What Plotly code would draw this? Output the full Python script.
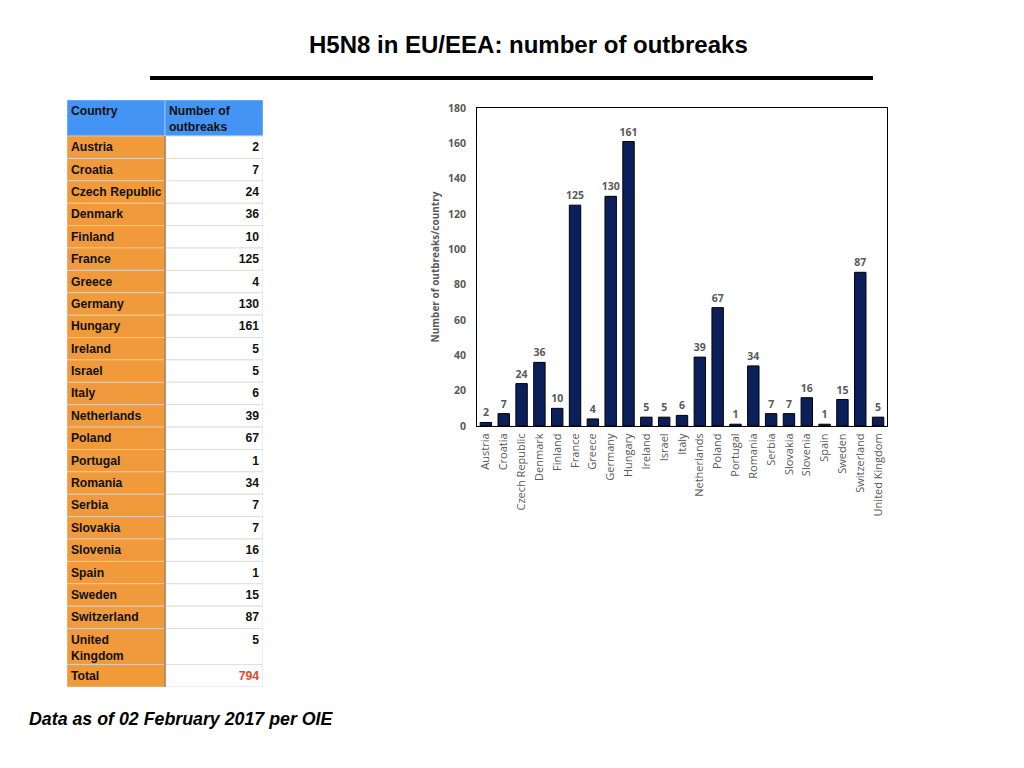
import plotly.graph_objects as go

# data
countries = ["Austria", "Croatia", "Czech Republic", "Denmark", "Finland", "France",
             "Greece", "Germany", "Hungary", "Ireland", "Israel", "Italy", "Netherlands",
             "Poland", "Portugal", "Romania", "Serbia", "Slovakia", "Slovenia", "Spain",
             "Sweden", "Switzerland", "United Kingdom"]
outbreaks = [2, 7, 24, 36, 10, 125, 4, 130, 161, 5, 5, 6, 39, 67, 1, 34, 7, 7, 16, 1,
             15, 87, 5]
header_labels = ["Country", "Number of<br>outbreaks"]
total_label = "Total"
total_value = 794
y_ticks = [0, 20, 40, 60, 80, 100, 120, 140, 160, 180]

W, H = 1024, 768
OFF = 8  # page body margin


def px(x):
    return (x - OFF) / W


def py(y):
    return 1 - (y - OFF) / H


ORANGE = "#f09a3b"
BLUE = "#4394f4"
NAVY = "#0b1f5b"
GREY = "#595959"
TXT = "#111111"
FONT = "Liberation Sans, Arial"

HEADER_H = 36
ROW_H = 22.35
PAD = 0.04  # text inset, in column units

fig = go.Figure()

# ---- table on the left, drawn on its own hidden axes (row units = px) ----
names = [c.replace("United Kingdom", "United<br>Kingdom") for c in countries] + [total_label]
vals = [str(v) for v in outbreaks] + [str(total_value)]
heights = [36 if "<br>" in n else ROW_H for n in names]
tops = []
t = HEADER_H
for h in heights:
    tops.append(t)
    t += h
table_bottom = t

# header cells
fig.add_trace(go.Bar(
    x=[0, 1], y=[HEADER_H, HEADER_H], base=[0, 0], width=1, offset=-0.5,
    marker=dict(color=BLUE, line=dict(color="rgba(200,215,235,0.6)", width=1)),
    xaxis="x2", yaxis="y2", showlegend=False, hoverinfo="skip",
))
# body cells
fig.add_trace(go.Bar(
    x=[0] * len(names), y=heights, base=tops, width=1, offset=-0.5,
    marker=dict(color=ORANGE, line=dict(color="rgba(220,220,220,0.6)", width=1)),
    xaxis="x2", yaxis="y2", showlegend=False, hoverinfo="skip",
))
fig.add_trace(go.Bar(
    x=[1] * len(names), y=heights, base=tops, width=1, offset=-0.5,
    marker=dict(color="white", line=dict(color="#dedede", width=1)),
    xaxis="x2", yaxis="y2", showlegend=False, hoverinfo="skip",
))
# column divider
fig.add_trace(go.Scatter(
    x=[0.5, 0.5], y=[HEADER_H, table_bottom], mode="lines",
    line=dict(color="#a27a4c", width=1.5),
    xaxis="x2", yaxis="y2", showlegend=False, hoverinfo="skip",
))
# header text
fig.add_trace(go.Scatter(
    x=[-0.5 + PAD, 0.5 + PAD], y=[5.5, 5.5], mode="text",
    text=["<b>" + s + "</b>" for s in header_labels],
    textposition="bottom right",
    textfont=dict(family=FONT, size=12.2, color=TXT),
    xaxis="x2", yaxis="y2", showlegend=False, hoverinfo="skip",
))
# body text
fig.add_trace(go.Scatter(
    x=[-0.5 + PAD] * len(names), y=[tp + 6 for tp in tops], mode="text",
    text=["<b>" + n + "</b>" for n in names],
    textposition="bottom right",
    textfont=dict(family=FONT, size=12.2, color=TXT),
    xaxis="x2", yaxis="y2", showlegend=False, hoverinfo="skip",
))
fig.add_trace(go.Scatter(
    x=[1.5 - PAD] * len(vals), y=[tp + 6 for tp in tops], mode="text",
    text=["<b>" + v + "</b>" for v in vals],
    textposition="bottom left",
    textfont=dict(family=FONT, size=12.2, color=[TXT] * len(outbreaks) + ["#e8452f"]),
    xaxis="x2", yaxis="y2", showlegend=False, hoverinfo="skip",
))

# ---- bar chart ----
fig.add_trace(go.Bar(
    x=countries,
    y=outbreaks,
    marker=dict(color=NAVY, line=dict(color="black", width=1)),
    text=[str(v) for v in outbreaks],
    textposition="outside",
    constraintext="none",
    cliponaxis=False,
    textfont=dict(family="Open Sans", size=10.5, color=GREY, weight="bold"),
    showlegend=False,
    hoverinfo="x+y",
))

fig.update_layout(
    width=W,
    height=H,
    margin=dict(l=0, r=0, t=0, b=0, autoexpand=False),
    paper_bgcolor="white",
    plot_bgcolor="white",
    bargap=0.36,
    xaxis=dict(
        domain=[px(477), px(887)],
        tickangle=-90,
        tickfont=dict(family="Open Sans", size=11, color=GREY),
        ticklabelstandoff=2,
        showline=True, linecolor="black", linewidth=1, mirror=True,
        ticks="", showgrid=False, automargin=False,
    ),
    yaxis=dict(
        domain=[py(426), py(108)],
        range=[0, 180],
        tickvals=y_ticks,
        tickfont=dict(family="Open Sans", size=10.5, color=GREY, weight="bold"),
        ticklabelstandoff=8,
        showline=True, linecolor="black", linewidth=1, mirror=True,
        ticks="", showgrid=False, zeroline=False, automargin=False,
        title=dict(text="Number of outbreaks/country", standoff=6,
                   font=dict(family="Open Sans", size=10, color=GREY, weight="bold")),
    ),
    xaxis2=dict(domain=[px(67), px(263)], range=[-0.5, 1.5], visible=False,
                fixedrange=True),
    yaxis2=dict(domain=[py(687), py(100)], range=[table_bottom, 0], visible=False,
                fixedrange=True),
    annotations=[
        dict(text="<b>H5N8 in EU/EEA: number of outbreaks</b>", x=px(528), y=py(44),
             xref="paper", yref="paper", xanchor="center", yanchor="middle",
             showarrow=False, font=dict(family=FONT, size=24, color="black")),
        dict(text="<b><i>Data as of 02 February 2017 per OIE</i></b>", x=px(27), y=py(719),
             xref="paper", yref="paper", xanchor="left", yanchor="middle",
             showarrow=False, font=dict(family=FONT, size=17.8, color="black")),
    ],
    shapes=[
        dict(type="line", xref="paper", yref="paper", x0=px(150), x1=px(873),
             y0=py(78), y1=py(78), line=dict(color="black", width=4)),
    ],
)

fig.write_html("out.html")
